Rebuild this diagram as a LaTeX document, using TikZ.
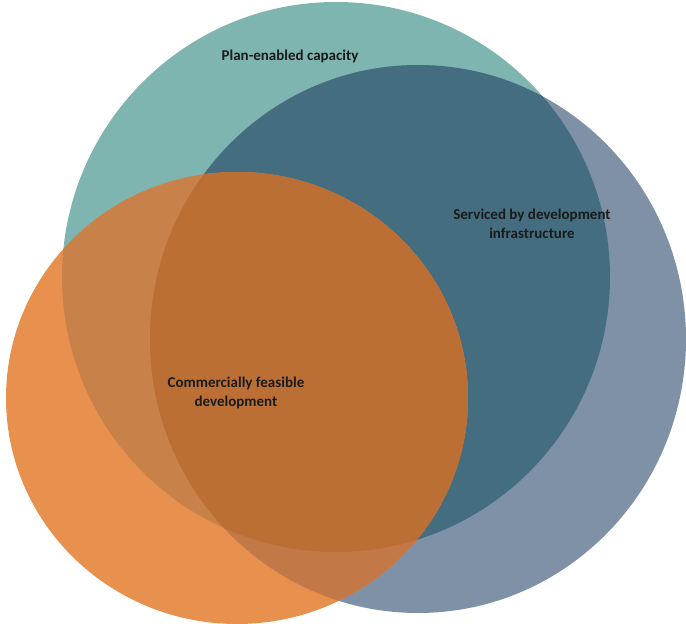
\documentclass[tikz,border=0pt]{standalone}
\usepackage{fontspec}
\setmainfont{Carlito}

\definecolor{plancol}{HTML}{7FB5B0}
\definecolor{servcol}{HTML}{7F91A6}
\definecolor{feascol}{HTML}{E8904E}
\definecolor{planserv}{HTML}{446E80}
\definecolor{planfeas}{HTML}{C9814A}
\definecolor{servfeas}{HTML}{C27847}
\definecolor{allthree}{HTML}{BB6F35}
\definecolor{labelcol}{HTML}{1A1A1A}

\newcommand*\planarea{(336,277) ellipse [x radius=274, y radius=275]}
\newcommand*\servarea{(418,339) ellipse [x radius=268, y radius=274]}
\newcommand*\feasarea{(237,398) ellipse [x radius=231, y radius=226]}

\tikzset{
  vennlabel/.style={text=labelcol, font=\bfseries\fontsize{12.8pt}{16.2pt}\selectfont, align=center, inner sep=0pt}
}

\begin{document}
\begin{tikzpicture}[x=0.03cm, y=-0.03cm]
		\useasboundingbox (0,0) rectangle (686,624);
		
		% Plain circles
		\fill[plancol] \planarea;
		\fill[servcol] \servarea;
		\fill[feascol] \feasarea;
		
		% Overlaps
		\begin{scope}
			\clip \planarea;
			\fill[planserv] \servarea;
			\fill[planfeas] \feasarea;
		\end{scope}
		\begin{scope}
			\clip \servarea;
			\fill[servfeas] \feasarea;
		\end{scope}
		\begin{scope}
			\clip \planarea;
			\clip \servarea;
			\fill[allthree] \feasarea;
		\end{scope}
		
		% Labels
		\node[vennlabel] (plan) at (290,56) {Plan-enabled capacity};
		\node[vennlabel] (serv) at (532,224) {Serviced by development\\infrastructure};
		\node[vennlabel] (feas) at (236,393) {Commercially feasible\\development};
		
	\end{tikzpicture}
\end{document}
